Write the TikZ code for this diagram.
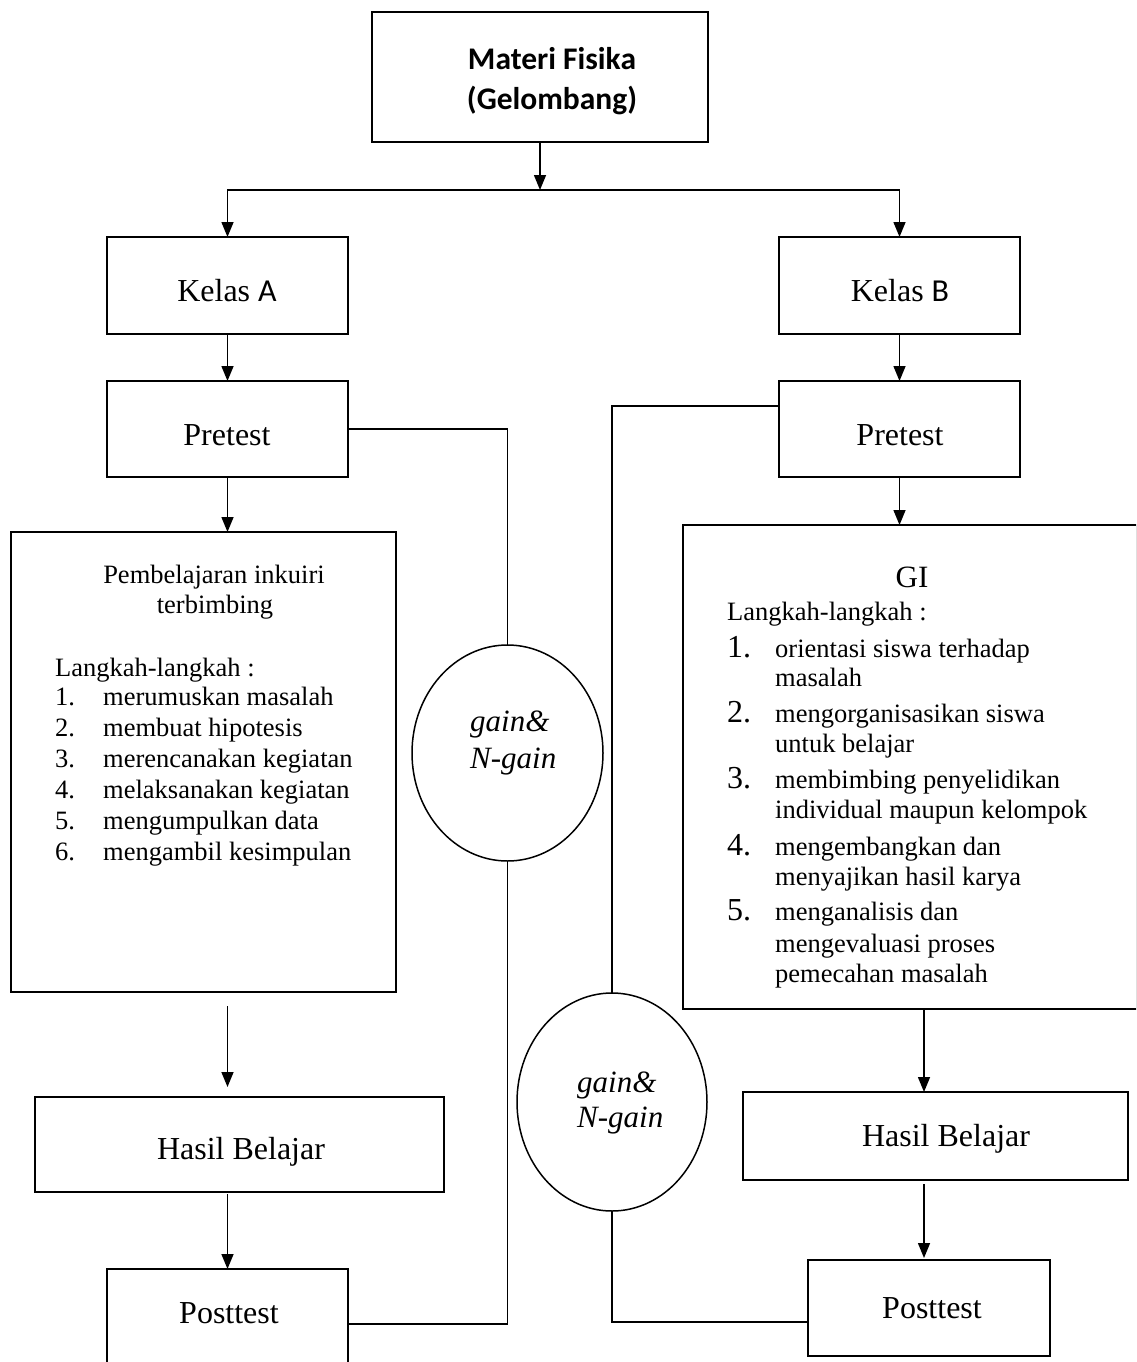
\documentclass[tikz,border=0pt]{standalone}
\usepackage{fontspec}
\setmainfont{Liberation Serif}
\newfontfamily\calfont{Carlito}
\usetikzlibrary{arrows.meta,shapes.geometric}
\begin{document}
\begin{tikzpicture}[x=1pt,y=-1pt,
  box/.style={draw, line width=1.6pt, inner sep=0pt, outer sep=0pt, rectangle},
  oval/.style={draw, ellipse, line width=1.5pt, inner sep=0pt, outer sep=0pt},
  ln/.style={line width=1.5pt},
  arr/.style={line width=1.5pt, -{Triangle[length=15pt,width=12pt]}},
  lbl/.style={inner sep=0pt, anchor=base, font=\fontsize{32}{36}\selectfont},
  sm/.style={inner sep=0pt, anchor=base west, font=\fontsize{26.5}{30}\selectfont},
  smc/.style={inner sep=0pt, anchor=base, font=\fontsize{26.5}{30}\selectfont},
  bignum/.style={inner sep=0pt, anchor=base west, font=\fontsize{32}{36}\selectfont},
  ctxt/.style={inner sep=0pt, anchor=base west, font=\itshape\fontsize{31}{35}\selectfont},
  ttl/.style={inner sep=0pt, anchor=base, font=\calfont\bfseries\fontsize{31.5}{38}\selectfont},
]
\useasboundingbox (0,0) rectangle (1136,1362);
\clip (0,0) rectangle (1136,1362);

% boxes
\node[box, minimum width=336pt, minimum height=130pt] (top) at (540,77) {};
\node[box, minimum width=241pt, minimum height=97pt] (kelasA) at (227.5,285.5) {};
\node[box, minimum width=241pt, minimum height=97pt] (kelasB) at (899.5,285.5) {};
\node[box, minimum width=241pt, minimum height=96pt] (preA) at (227.5,429) {};
\node[box, minimum width=241pt, minimum height=96pt] (preB) at (899.5,429) {};
\node[box, minimum width=385pt, minimum height=460pt] (bigA) at (203.5,762) {};
\node[box, minimum width=454pt, minimum height=484pt] (bigB) at (910,767) {};
\node[oval, minimum width=191pt, minimum height=216pt] (circA) at (507.5,753) {};
\node[oval, minimum width=190pt, minimum height=218pt] (circB) at (612,1102) {};
\node[box, minimum width=409pt, minimum height=95pt] (hasA) at (239.5,1144.5) {};
\node[box, minimum width=385pt, minimum height=88pt] (hasB) at (935.5,1136) {};
\node[box, minimum width=241pt, minimum height=110pt] (postA) at (227.5,1324) {};
\node[box, minimum width=242pt, minimum height=96pt] (postB) at (929,1308) {};

% box labels
\node[ttl] (t1) at (552,70) {Materi Fisika};
\node[ttl] (t2) at (552,110) {(Gelombang)};
\node[lbl] (kAt) at (227,301) {Kelas {\calfont A}};
\node[lbl] (kBt) at (900,301) {Kelas {\calfont B}};
\node[lbl] (pAt) at (227,445) {Pretest};
\node[lbl] (pBt) at (900,445) {Pretest};
\node[lbl] (hAt) at (241,1159) {Hasil Belajar};
\node[lbl] (hBt) at (946,1146) {Hasil Belajar};
\node[lbl] (oAt) at (229,1323) {Posttest};
\node[lbl] (oBt) at (932,1318) {Posttest};

% circle texts
\node[ctxt] (cA1) at (470,731) {gain\&};
\node[ctxt] (cA2) at (470,768) {N-gain};
\node[ctxt] (cB1) at (577,1092) {gain\&};
\node[ctxt] (cB2) at (577,1127) {N-gain};

% left list
\node[smc] (pa1) at (214,583) {Pembelajaran inkuiri};
\node[smc] (pa2) at (215,613) {terbimbing};
\node[sm] (la0) at (55,676) {Langkah-langkah :};
\foreach \n/\t [count=\i] in {1/merumuskan masalah, 2/membuat hipotesis, 3/merencanakan kegiatan, 4/melaksanakan kegiatan, 5/mengumpulkan data, 6/mengambil kesimpulan}{
  \node[sm] (ln\i) at (55,674+31*\i) {\n.};
  \node[sm] (lt\i) at (103,674+31*\i) {\t};
}

% right list
\node[inner sep=0pt, anchor=base, font=\fontsize{31}{35}\selectfont] (gi) at (912,587) {GI};
\node[sm] (rb0) at (727,620) {Langkah-langkah :};
\node[bignum] (rn1) at (727,657) {1.};
\node[sm] (r11) at (775,657) {orientasi siswa terhadap};
\node[sm] (r12) at (775,686) {masalah};
\node[bignum] (rn2) at (727,722) {2.};
\node[sm] (r21) at (775,722) {mengorganisasikan siswa};
\node[sm] (r22) at (775,752) {untuk belajar};
\node[bignum] (rn3) at (727,788) {3.};
\node[sm] (r31) at (775,788) {membimbing penyelidikan};
\node[sm] (r32) at (775,818) {individual maupun kelompok};
\node[bignum] (rn4) at (727,855) {4.};
\node[sm] (r41) at (775,855) {mengembangkan dan};
\node[sm] (r42) at (775,885) {menyajikan hasil karya};
\node[bignum] (rn5) at (727,920) {5.};
\node[sm] (r51) at (775,920) {menganalisis dan};
\node[sm] (r52) at (775,952) {mengevaluasi proses};
\node[sm] (r53) at (775,982) {pemecahan masalah};

% connectors
\coordinate (split) at (540,190);
\coordinate (bx) at (924,0);
\draw[arr] (top.south) -- (split);
\draw[arr] (split) -| (kelasA.north);
\draw[arr] (split) -| (kelasB.north);
\draw[arr] (kelasA) -- (preA);
\draw[arr] (kelasB) -- (preB);
\draw[arr] (preA.south) -- (preA.south |- bigA.north);
\draw[arr] (preB.south) -- (preB.south |- bigB.north);
\draw[arr, shorten <=14pt, shorten >=10pt] (preA.south |- bigA.south) -- (preA.south |- hasA.north);
\draw[arr] (bx |- bigB.south) -- (bx |- hasB.north);
\draw[arr, shorten <=2pt] (preA.south |- hasA.south) -- (postA.north);
\draw[arr, shorten <=4pt, shorten >=2pt] (bx |- hasB.south) -- (bx |- postB.north);
\draw[ln] (preA.east) -| (circA.north);
\draw[ln] (circA.south) |- (postA.east);
\draw[ln] ([yshift=23pt]preB.west) -| (circB.north);
\draw[ln] (circB.south) |- ([yshift=-14pt]postB.west);
\end{tikzpicture}
\end{document}
